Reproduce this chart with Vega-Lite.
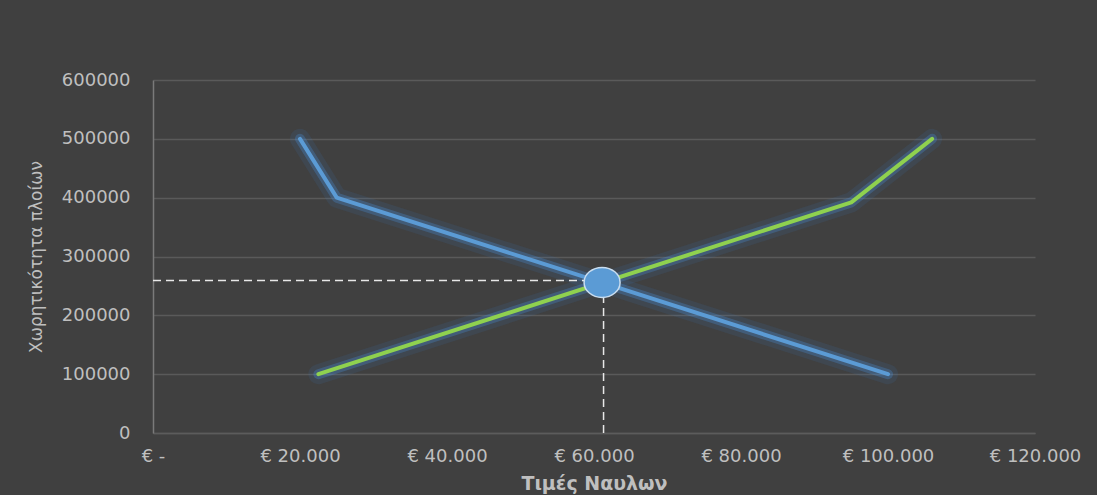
{
  "$schema": "https://vega.github.io/schema/vega-lite/v6.json",
  "width": 882,
  "height": 353,
  "autosize": {"type": "none"},
  "padding": {"left": 153, "top": 80, "right": 62, "bottom": 62},
  "background": "#404040",
  "config": {
    "view": {"stroke": null},
    "font": "DejaVu Sans"
  },
  "datasets": {
    "curves": [
      {"series": "demand", "price": 20000, "capacity": 500000},
      {"series": "demand", "price": 25000, "capacity": 400000},
      {"series": "demand", "price": 100000, "capacity": 100000},
      {"series": "supply", "price": 22500, "capacity": 100000},
      {"series": "supply", "price": 95000, "capacity": 392000},
      {"series": "supply", "price": 106000, "capacity": 500000}
    ],
    "guides": [
      {"price": 0, "price_end": 61100, "capacity": 259000, "capacity_end": 259000},
      {"price": 61300, "price_end": 61300, "capacity": 0, "capacity_end": 255000}
    ],
    "equilibrium": [
      {"price": 61100, "capacity": 256000}
    ]
  },
  "encoding": {
    "x": {
      "field": "price",
      "type": "quantitative",
      "scale": {"domain": [0, 120000], "nice": false, "zero": true},
      "axis": {
        "values": [0, 20000, 40000, 60000, 80000, 100000, 120000],
        "labelExpr": "datum.value === 0 ? '€ -' : '€ ' + replace(format(datum.value, ',d'), ',', '.')",
        "grid": false,
        "ticks": false,
        "domain": true,
        "domainColor": "#5c5c5c",
        "domainWidth": 1.5,
        "labelColor": "#BFBFBF",
        "labelFontSize": 18,
        "labelPadding": 14,
        "labelFlush": false,
        "labelOverlap": false,
        "labelBound": false,
        "title": "Τιμές Ναυλων",
        "titleColor": "#BFBFBF",
        "titleFontSize": 19,
        "titleFontWeight": "bold",
        "titlePadding": 9
      }
    },
    "y": {
      "field": "capacity",
      "type": "quantitative",
      "scale": {"domain": [0, 600000], "nice": false},
      "axis": {
        "values": [0, 100000, 200000, 300000, 400000, 500000, 600000],
        "format": "d",
        "grid": true,
        "gridColor": "#5a5a5a",
        "gridWidth": 1.5,
        "ticks": false,
        "domain": true,
        "domainColor": "#7a7a7a",
        "domainWidth": 1.5,
        "labelColor": "#BFBFBF",
        "labelFontSize": 18,
        "labelPadding": 23,
        "title": "Χωρητικότητα πλοίων",
        "titleColor": "#BFBFBF",
        "titleFontSize": 17,
        "titleFontWeight": "normal",
        "titlePadding": 16
      }
    }
  },
  "layer": [
    {
      "data": {"name": "curves"},
      "mark": {"type": "line", "color": "#3d7fc4", "strokeWidth": 20, "opacity": 0.12, "strokeCap": "round", "strokeJoin": "round"},
      "encoding": {"detail": {"field": "series"}}
    },
    {
      "data": {"name": "curves"},
      "mark": {"type": "line", "color": "#4a8ed6", "strokeWidth": 10, "opacity": 0.3, "strokeCap": "round", "strokeJoin": "round"},
      "encoding": {"detail": {"field": "series"}}
    },
    {
      "data": {"name": "guides"},
      "mark": {"type": "rule", "color": "#E8E8E8", "strokeWidth": 1.5, "strokeDash": [8, 5]},
      "encoding": {
        "x2": {"field": "price_end"},
        "y2": {"field": "capacity_end"}
      }
    },
    {
      "data": {"name": "curves"},
      "mark": {"type": "line", "strokeWidth": 4, "strokeCap": "round", "strokeJoin": "round"},
      "encoding": {
        "color": {
          "field": "series",
          "type": "nominal",
          "scale": {"domain": ["demand", "supply"], "range": ["#5B9BD5", "#8FD14F"]},
          "legend": null
        }
      }
    },
    {
      "data": {"name": "equilibrium"},
      "mark": {
        "type": "point",
        "shape": "M-1.2,0 A1.2,1 0 1,0 1.2,0 A1.2,1 0 1,0 -1.2,0 Z",
        "size": 900,
        "filled": true,
        "fill": "#5B9BD5",
        "stroke": "#C9DDF0",
        "strokeWidth": 1.5,
        "opacity": 1
      }
    }
  ]
}
